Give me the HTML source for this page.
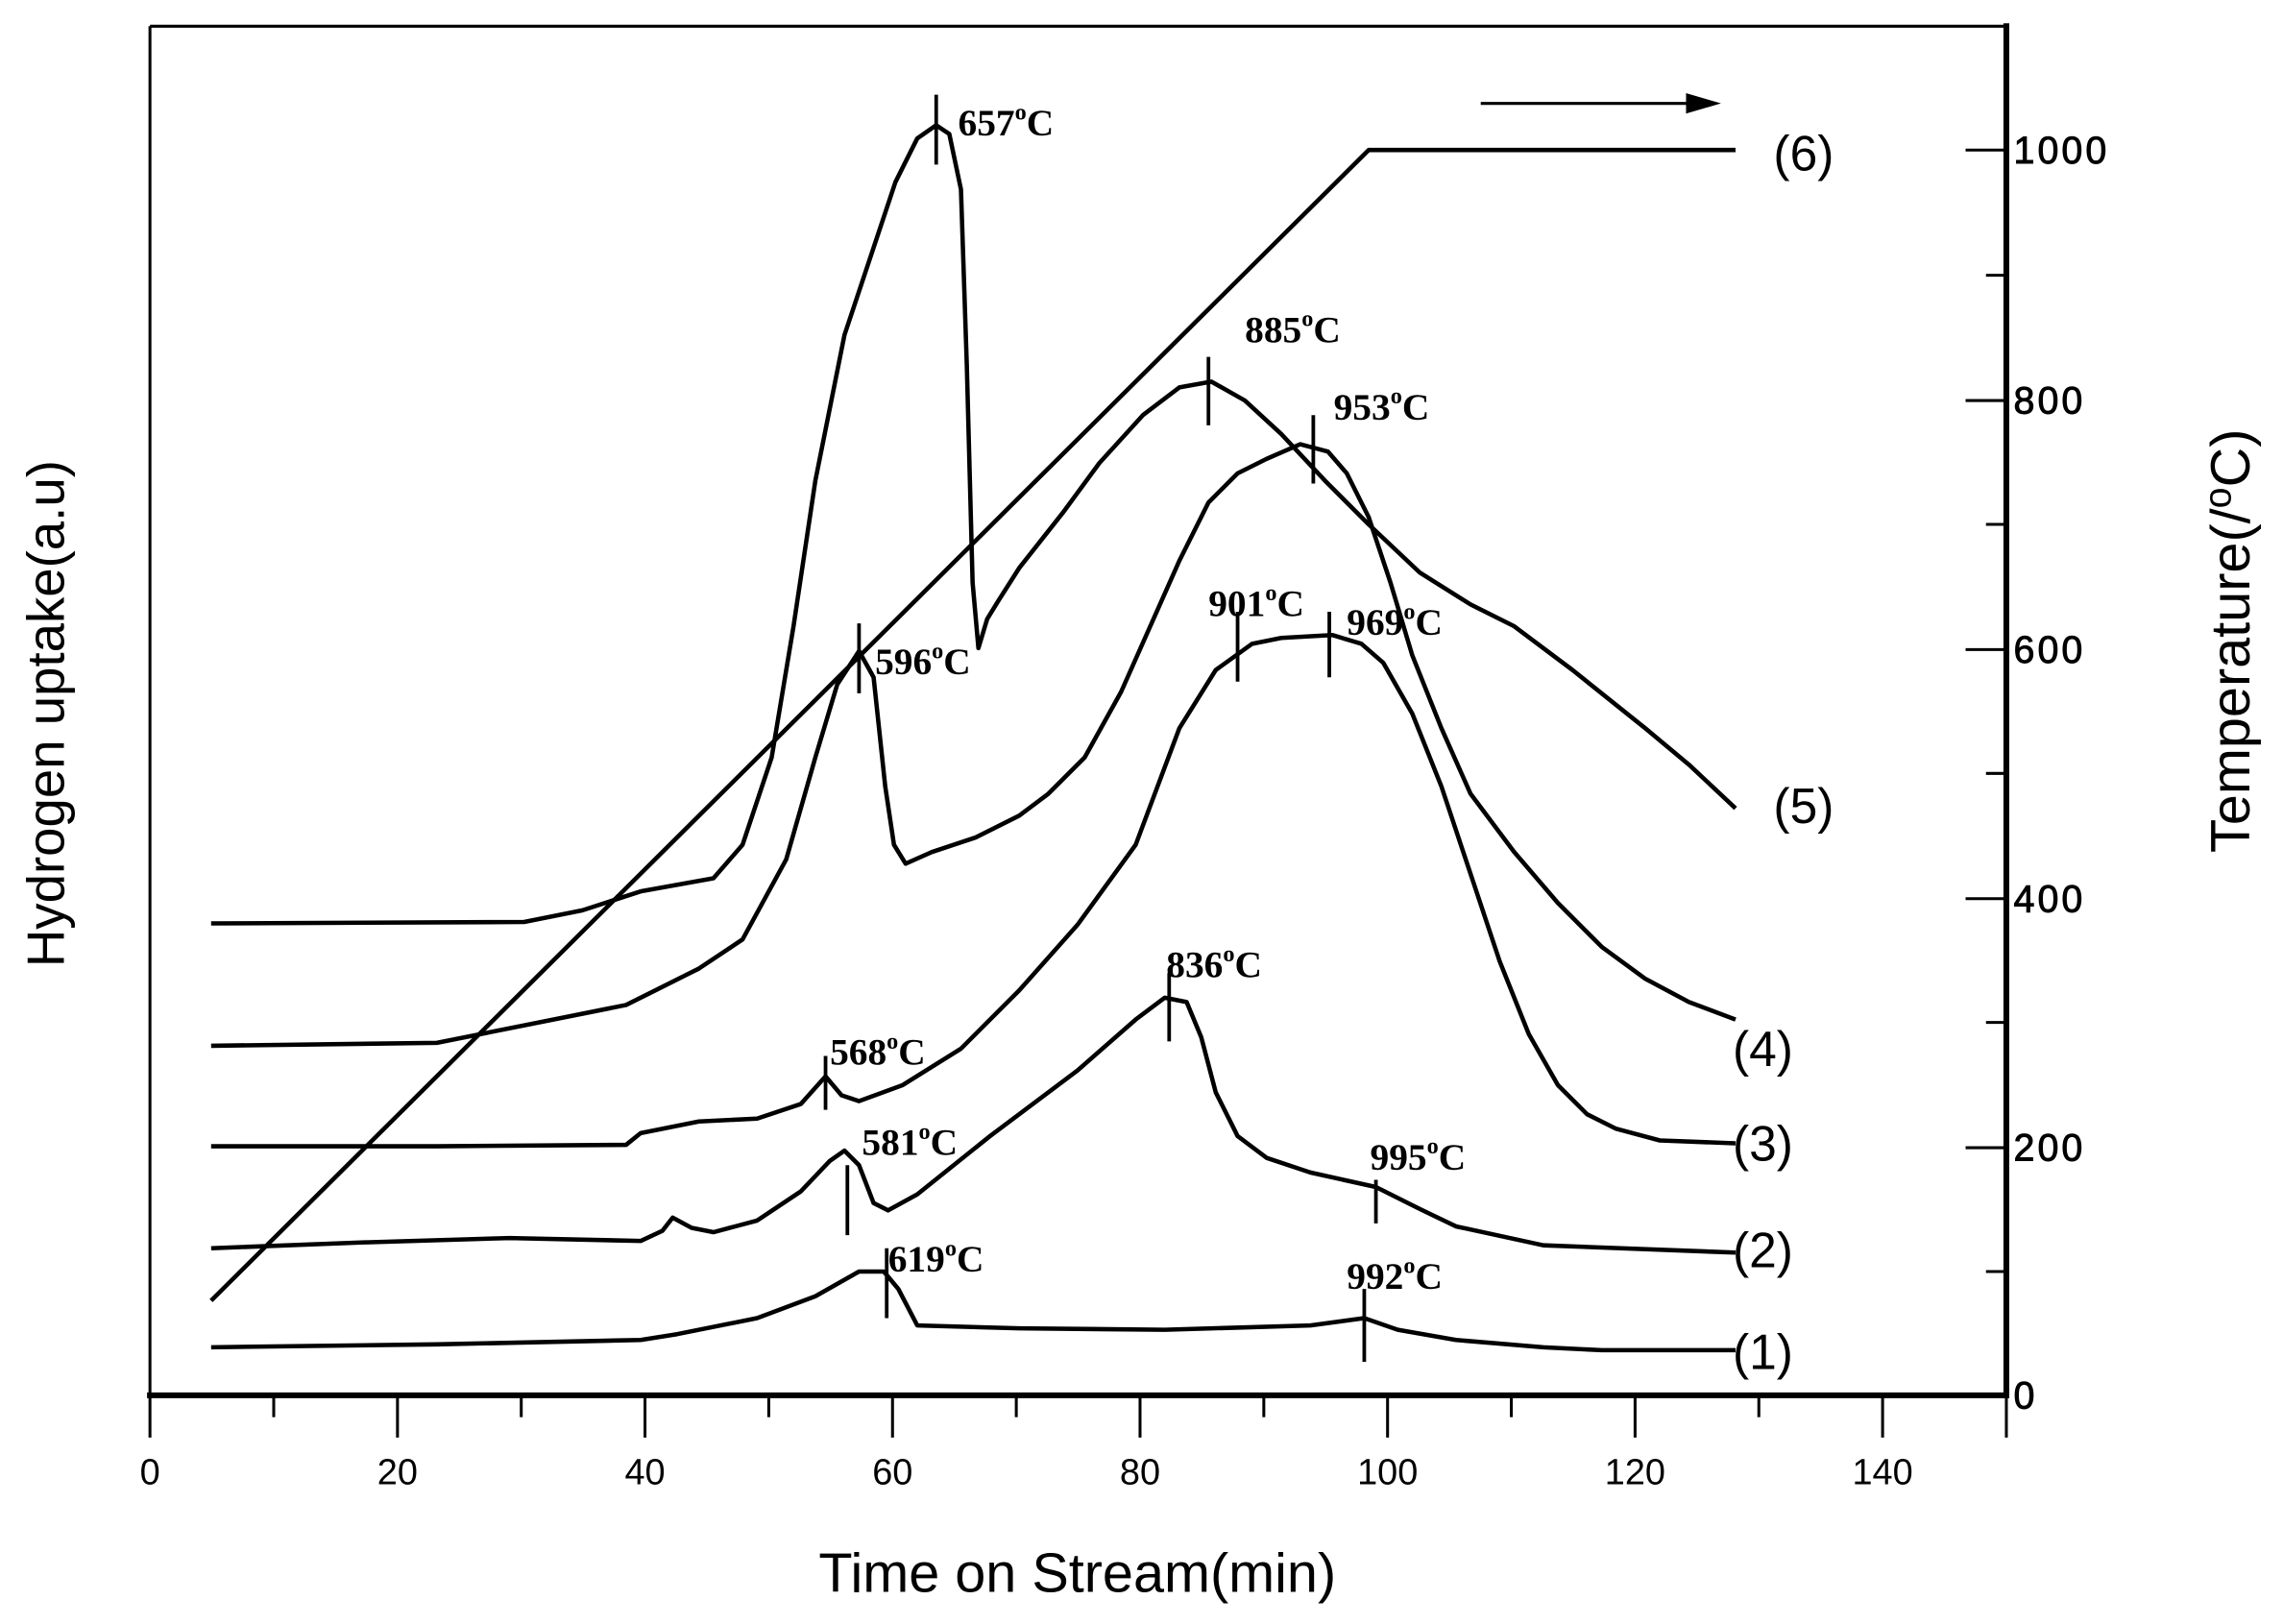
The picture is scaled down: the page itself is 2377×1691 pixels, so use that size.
<!DOCTYPE html>
<html><head><meta charset="utf-8"><style>
html,body{margin:0;padding:0;background:#fff;}
svg{display:block;}
.t{font-family:"Liberation Serif",serif;font-weight:bold;font-size:26px;}
.s{font-family:"Liberation Sans",sans-serif;}
</style></head><body>
<svg width="2377" height="1691" viewBox="0 0 1568 1115" preserveAspectRatio="none" xmlns="http://www.w3.org/2000/svg">
<g fill="none" stroke="#000" stroke-linejoin="round">
<line x1="103" y1="18" x2="1378" y2="18" stroke-width="2"/>
<line x1="103" y1="18" x2="103" y2="958" stroke-width="2"/>
<line x1="101" y1="958" x2="1380" y2="958" stroke-width="4"/>
<line x1="1378" y1="16" x2="1378" y2="960" stroke-width="4"/>
<g stroke-width="2">
<path d="M103 958V987M273 958V987M443 958V987M613 958V987M783 958V987M953 958V987M1123 958V987M1293 958V987M1378 958V987"/>
<path d="M188 958V973M358 958V973M528 958V973M698 958V973M868 958V973M1038 958V973M1208 958V973"/>
<path d="M1378 103H1350M1378 275H1350M1378 446H1350M1378 617H1350M1378 788H1350M1378 189H1364M1378 360H1364M1378 531H1364M1378 702H1364M1378 873H1364"/>
</g>
<g stroke-width="3">
<polyline points="145,893 940,103 1192,103"/>
<polyline points="145,925 300,923 440,920 465,916 520,905 560,890 590,873 607,873 617,885 630,910 700,912 800,913 900,910 937,905 960,913 1000,920 1060,925 1100,927 1192,927"/>
<polyline points="145,857 250,853 350,850 440,852 455,845 462,836 475,843 490,846 520,838 550,818 570,797 580,790 590,800 600,826 610,831 630,820 680,780 740,735 780,700 800,685 815,688 825,712 835,750 850,780 870,795 900,805 945,815 975,830 1000,842 1060,855 1192,860"/>
<polyline points="145,787 300,787 430,786 440,778 480,770 520,768 550,758 567,739 578,752 590,756 620,745 660,720 700,680 740,635 780,580 810,500 835,460 860,442 880,438 915,436 935,442 950,455 970,490 990,540 1010,600 1030,660 1050,710 1070,745 1090,765 1110,775 1140,783 1192,785"/>
<polyline points="145,718 300,716 380,700 430,690 450,680 480,665 510,645 540,590 560,520 575,470 590,447 600,465 608,540 614,580 622,593 640,585 670,575 700,560 720,545 745,520 770,475 790,430 810,385 830,345 850,325 870,315 893,305 912,310 925,325 940,355 955,400 970,450 990,500 1010,545 1040,585 1070,620 1100,650 1130,672 1160,688 1192,700"/>
<polyline points="145,634 360,633 400,625 440,612 490,603 510,580 530,520 545,430 560,330 580,230 600,170 615,125 630,95 643,86 652,92 660,130 664,250 668,400 672,445 678,425 686,412 700,390 730,352 755,318 785,285 810,266 832,262 855,275 880,298 910,330 940,360 975,393 1010,415 1040,430 1080,460 1130,500 1160,525 1192,555"/>
</g>
<g stroke-width="2.5">
<path d="M643 65V113M830 245V292M902 285V332M590 428V476M850 420V468M913 420V465M567 725V762M803 668V715M582 800V848M945 810V840M609 857V905M937 885V935"/>
</g>
<line x1="1017" y1="71" x2="1160" y2="71" stroke-width="2"/>
</g>
<polygon points="1158,64 1182,71 1158,78" fill="#000"/>
<g class="t" fill="#000">
<text x="658" y="93">657<tspan dy="-11" font-size="16">o</tspan><tspan dy="11">C</tspan></text>
<text x="855" y="235">885<tspan dy="-11" font-size="16">o</tspan><tspan dy="11">C</tspan></text>
<text x="916" y="288">953<tspan dy="-11" font-size="16">o</tspan><tspan dy="11">C</tspan></text>
<text x="601" y="463">596<tspan dy="-11" font-size="16">o</tspan><tspan dy="11">C</tspan></text>
<text x="830" y="423">901<tspan dy="-11" font-size="16">o</tspan><tspan dy="11">C</tspan></text>
<text x="925" y="436">969<tspan dy="-11" font-size="16">o</tspan><tspan dy="11">C</tspan></text>
<text x="570" y="731">568<tspan dy="-11" font-size="16">o</tspan><tspan dy="11">C</tspan></text>
<text x="801" y="671">836<tspan dy="-11" font-size="16">o</tspan><tspan dy="11">C</tspan></text>
<text x="592" y="793">581<tspan dy="-11" font-size="16">o</tspan><tspan dy="11">C</tspan></text>
<text x="941" y="803">995<tspan dy="-11" font-size="16">o</tspan><tspan dy="11">C</tspan></text>
<text x="610" y="873">619<tspan dy="-11" font-size="16">o</tspan><tspan dy="11">C</tspan></text>
<text x="925" y="885">992<tspan dy="-11" font-size="16">o</tspan><tspan dy="11">C</tspan></text>
</g>
<g class="s" fill="#000" font-size="34">
<text x="1218" y="117">(6)</text>
<text x="1218" y="565">(5)</text>
<text x="1190" y="732">(4)</text>
<text x="1190" y="797">(3)</text>
<text x="1190" y="870">(2)</text>
<text x="1190" y="940">(1)</text>
</g>
<g class="s" fill="#000" font-size="25" text-anchor="middle">
<text x="103" y="1019">0</text><text x="273" y="1019">20</text><text x="443" y="1019">40</text><text x="613" y="1019">60</text><text x="783" y="1019">80</text><text x="953" y="1019">100</text><text x="1123" y="1019">120</text><text x="1293" y="1019">140</text>
</g>
<g class="s" fill="#000" font-size="26" letter-spacing="2" stroke="#000" stroke-width="0.6">
<text x="1383" y="112">1000</text><text x="1383" y="284">800</text><text x="1383" y="455">600</text><text x="1383" y="626">400</text><text x="1383" y="797">200</text><text x="1383" y="967">0</text>
</g>
<text class="s" x="740" y="1093" font-size="38" text-anchor="middle">Time on Stream(min)</text>
<text class="s" transform="translate(44,490) rotate(-90)" font-size="36" text-anchor="middle">Hydrogen uptake(a.u)</text>
<text class="s" transform="translate(1545,440) rotate(-90)" font-size="38" text-anchor="middle">Temperature(/<tspan dy="-13" font-size="26">o</tspan><tspan dy="13">C)</tspan></text>
</svg>
</body></html>
